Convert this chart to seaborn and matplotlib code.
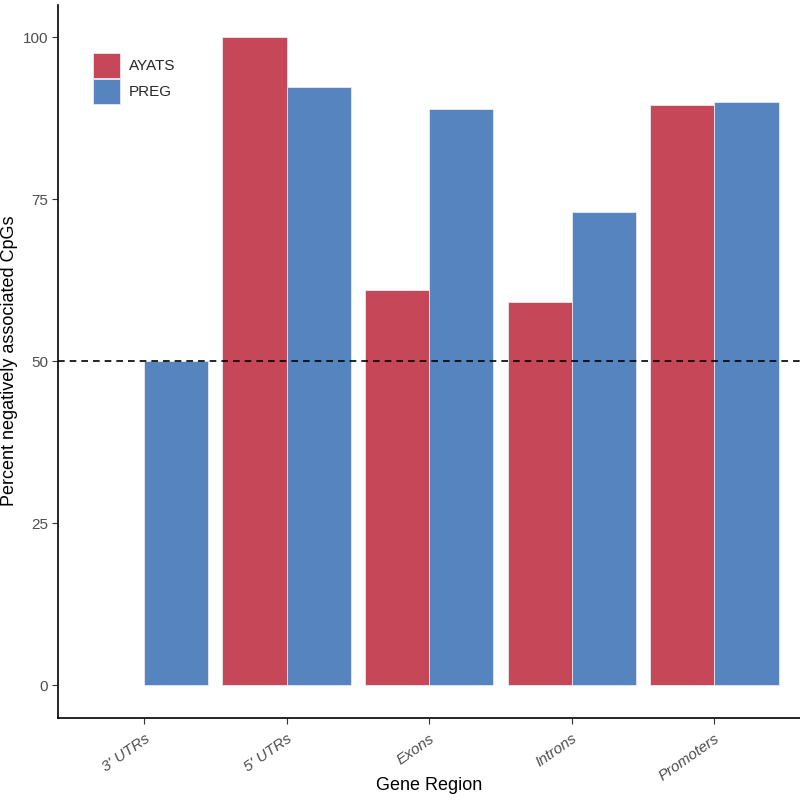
import numpy as np
import pandas as pd
import seaborn as sns
import matplotlib
matplotlib.use("Agg")
import matplotlib.pyplot as plt

# data
regions = ["3' UTRs", "5' UTRs", "Exons", "Introns", "Promoters"]
ayats = [np.nan, 100.0, 61.0, 59.2, 89.6]
preg = [50.0, 92.3, 88.9, 73.1, 90.0]
groups = ["AYATS", "PREG"]

RED = "#C64858"
BLUE = "#5584BE"
GREY = "#4D4D4D"

df = pd.DataFrame({
    "region": regions * 2,
    "group": ["AYATS"] * len(regions) + ["PREG"] * len(regions),
    "pct": ayats + preg,
})

sns.set_theme(style="ticks")
plt.rcParams['font.family'] = ['Liberation Sans', 'DejaVu Sans']

fig = plt.figure(figsize=(8, 8), dpi=100)
ax = fig.add_axes([0.073, 0.103, 0.927, 0.891])

sns.barplot(data=df, x="region", y="pct", hue="group", order=regions,
            hue_order=groups, palette=[RED, BLUE], width=0.9, saturation=1,
            edgecolor="#e8e8f0", linewidth=0.6, ax=ax, errorbar=None)

ax.axhline(50, color="black", ls=(0, (4, 3)), lw=1.2)

ax.set_xlim(-0.6, 4.6)
ax.set_ylim(-5, 105)
ax.set_yticks([0, 25, 50, 75, 100])
ax.set_yticklabels(["0", "25", "50", "75", "100"], fontsize=11, color=GREY)
ax.set_xticks(range(len(regions)))
ax.set_xticklabels(regions, rotation=35, ha="right", rotation_mode="anchor",
                   fontsize=11, color=GREY, style="italic")
ax.tick_params(axis="both", length=4, width=0.8, color="#333333")
ax.tick_params(axis="x", pad=6)

ax.set_xlabel("Gene Region", fontsize=13, color="black")
ax.set_ylabel("Percent negatively associated CpGs", fontsize=13, color="black")
ax.xaxis.set_label_coords(0.5, -0.083)
ax.yaxis.set_label_coords(-0.055, 0.5)

for s in ["top", "right"]:
    ax.spines[s].set_visible(False)
for s in ["left", "bottom"]:
    ax.spines[s].set_linewidth(1.2)
    ax.spines[s].set_color("black")

leg = ax.legend(loc="upper left", bbox_to_anchor=(0.028, 0.952), frameon=False,
                fontsize=11, title=None, handlelength=1.75, handleheight=2.2,
                labelspacing=0.02, handletextpad=0.6)

fig.savefig("out.png", dpi=100)
